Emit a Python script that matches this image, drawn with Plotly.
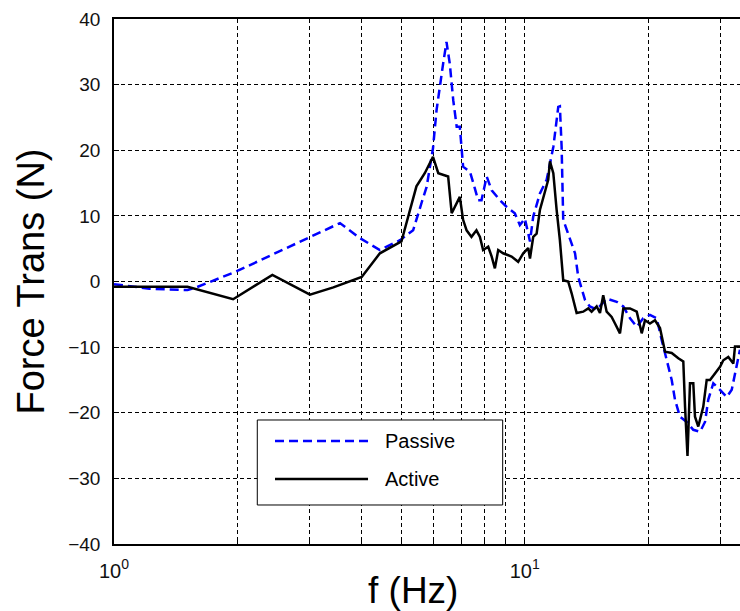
import plotly.graph_objects as go

# Frequency (Hz) and force transmissibility (N)
active_f = [1.00, 1.51, 1.95, 2.43, 3.00, 3.42, 4.01, 4.44, 5.01, 5.20, 5.45, 5.71, 5.98, 6.16, 6.51,
            6.64, 6.83, 6.95, 7.08, 7.22, 7.42, 7.63, 7.78, 7.92, 8.15, 8.31, 8.46, 8.62, 8.86, 9.29,
            9.64, 9.92, 10.20, 10.30, 10.49, 10.69, 10.89, 11.20, 11.41, 11.52, 11.74, 11.96, 12.18,
            12.41, 12.76, 13.01, 13.38, 13.88, 14.28, 14.55, 14.97, 15.25, 15.53, 15.83, 16.28, 16.59,
            17.06, 17.38, 18.05, 18.74, 19.27, 19.63, 20.18, 20.76, 21.35, 21.96, 22.80, 23.66, 24.33,
            24.57, 24.91, 25.26, 25.73, 25.98, 26.46, 27.21, 27.74, 28.27, 29.07, 29.89, 30.45, 31.31,
            32.21, 32.51, 33.43]
active_y = [-0.8, -0.8, -2.7, 1.0, -2.0, -0.9, 0.7, 4.3, 6.1, 9.9, 14.5, 16.5, 19.0, 16.5, 16.0,
            10.4, 11.9, 12.9, 9.4, 7.8, 6.8, 7.8, 6.8, 4.8, 5.3, 3.8, 2.0, 4.8, 4.3, 3.8,
            3.0, 4.3, 5.1, 3.5, 6.8, 7.3, 10.9, 13.9, 15.5, 18.3, 16.5, 10.9, 6.3,
            0.2, 0.0, -1.8, -4.8, -4.6, -4.1, -4.6, -3.8, -4.8, -2.1, -4.6, -5.4, -6.4,
            -7.9, -4.1, -4.1, -4.6, -7.9, -5.9, -6.4, -5.9, -7.1, -10.7, -10.9, -11.7, -12.2,
            -19.1, -26.6, -15.5, -15.5, -20.6, -22.1, -19.1, -15.0, -15.0, -14.0, -13.0, -12.0, -11.5,
            -12.5, -9.9, -9.9]

passive_f = [1.00, 1.22, 1.51, 1.57, 1.98, 3.00, 3.55, 3.97, 4.44, 4.97, 5.35, 5.61, 5.77, 5.98,
             6.10, 6.33, 6.45, 6.57, 6.70, 6.83, 6.95, 7.08, 7.36, 7.56, 7.70, 7.85, 8.08, 8.31,
             8.70, 9.03, 9.46, 9.73, 10.01, 10.30, 10.49, 10.89, 11.31, 11.74, 12.07, 12.18, 12.30,
             12.41, 12.89, 13.26, 13.50, 14.02, 14.41, 14.97, 15.83, 16.75, 17.38, 18.05, 18.74,
             19.44, 20.18, 20.96, 21.55, 22.17, 22.80, 23.22, 23.88, 24.80, 25.73, 26.73, 27.48,
             27.99, 28.79, 29.89, 31.03, 31.92, 32.51, 33.43]
passive_y = [-0.4, -1.1, -1.3, -1.0, 1.5, 6.8, 8.9, 6.6, 4.8, 6.3, 7.8, 12.0, 14.4, 20.3,
             26.1, 33.2, 36.5, 33.2, 27.6, 23.6, 23.6, 17.5, 16.7, 14.2, 12.4, 12.4, 16.0, 13.9,
             12.4, 11.4, 10.4, 8.6, 9.6, 6.1, 9.9, 13.4, 15.5, 20.5, 26.6, 26.7, 20.5,
             9.4, 6.3, 4.3, 0.7, -2.8, -3.8, -4.3, -2.6, -3.1, -3.8, -5.6, -6.9,
             -5.6, -5.1, -5.6, -8.9, -12.0, -15.0, -18.0, -20.6, -21.4, -22.6, -22.9, -21.4,
             -18.0, -15.5, -16.5, -17.6, -16.5, -14.0, -10.4]

x_major_vals = [1, 10]
x_major_text = ["10<sup>0</sup>", "10<sup>1</sup>"]
x_minor_vals = [2, 3, 4, 5, 6, 7, 8, 9, 20, 30]
y_tickvals = [-40, -30, -20, -10, 0, 10, 20, 30, 40]
series_names = ["Passive", "Active"]
series_colors = ["#0000FF", "#000000"]
series_dash = ["9px,5px", "solid"]

FONT = "Liberation Sans, Arial, sans-serif"
GRID = dict(showgrid=True, gridcolor="black", gridwidth=1, griddash="4px,3px")

fig = go.Figure()
fig.add_trace(go.Scatter(x=passive_f, y=passive_y, mode="lines", name=series_names[0],
                         line=dict(color=series_colors[0], width=2.5, dash=series_dash[0])))
fig.add_trace(go.Scatter(x=active_f, y=active_y, mode="lines", name=series_names[1],
                         line=dict(color=series_colors[1], width=2.5, dash=series_dash[1])))

# Legend box drawn in paper coordinates (MATLAB style, long line samples)
lx0, lx1, ly0, ly1 = 0.2289, 0.6209, 0.0743, 0.2362
sx0, sx1, tx = 0.2572, 0.4058, 0.4292
rows_y = [0.1962, 0.1238]
shapes = [dict(type="rect", xref="paper", yref="paper", x0=lx0, x1=lx1, y0=ly0, y1=ly1,
               fillcolor="white", line=dict(color="black", width=1), layer="above")]
annotations = []
for name, col, dsh, yy in zip(series_names, series_colors, series_dash, rows_y):
    shapes.append(dict(type="line", xref="paper", yref="paper", x0=sx0, x1=sx1, y0=yy, y1=yy,
                       line=dict(color=col, width=2.5, dash=dsh), layer="above"))
    annotations.append(dict(text=name, xref="paper", yref="paper", x=tx, y=yy,
                            xanchor="left", yanchor="middle", showarrow=False,
                            font=dict(size=20, family=FONT, color="black")))
annotations.append(dict(text="f (Hz)", x=0.4774, y=0, xref="paper", yref="paper",
                        xanchor="center", yanchor="top", yshift=-24, showarrow=False,
                        font=dict(size=37, family=FONT, color="black")))

fig.update_layout(
    width=740, height=611,
    margin=dict(l=114, r=0, t=19, b=67, pad=0),
    paper_bgcolor="white", plot_bgcolor="white",
    font=dict(family=FONT, size=18, color="#000000"),
    showlegend=False,
    shapes=shapes,
    annotations=annotations,
)
fig.update_xaxes(type="log", range=[0, 1.5242], tickmode="array",
                 tickvals=x_major_vals, ticktext=x_major_text,
                 **GRID,
                 minor=dict(tickmode="array", tickvals=x_minor_vals, ticks="inside", ticklen=5,
                            tickcolor="black", **GRID),
                 showline=True, linecolor="black", linewidth=1.5, mirror=True,
                 ticks="inside", ticklen=5, tickcolor="black",
                 tickfont=dict(size=20, family=FONT, color="#111"),
                 zeroline=False, ticklabelstandoff=8)
fig.update_yaxes(range=[-40, 40], tickmode="array", tickvals=y_tickvals,
                 **GRID,
                 showline=True, linecolor="black", linewidth=1.5,
                 ticks="inside", ticklen=5, tickcolor="black",
                 tickfont=dict(size=19, family=FONT, color="#111"),
                 zeroline=False, ticklabelstandoff=8,
                 title=dict(text="Force Trans (N)", standoff=12,
                            font=dict(size=38, family=FONT, color="black")))

fig.write_html("out.html")
